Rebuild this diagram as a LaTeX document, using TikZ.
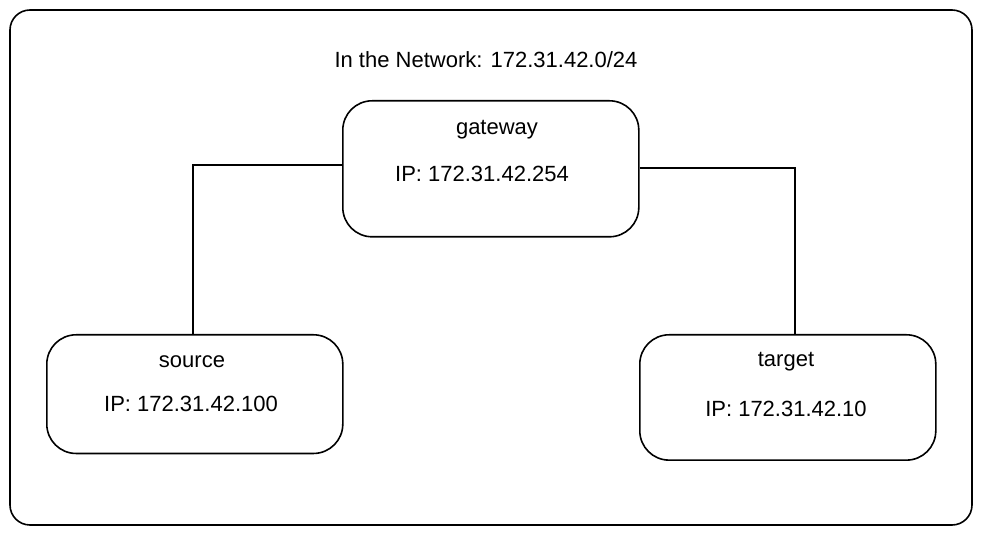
\documentclass[tikz,border=0pt]{standalone}
\usepackage{fontspec}
\setmainfont{Liberation Sans}
\usetikzlibrary{positioning}
\tikzset{
host/.style={draw, line width=1.2pt, rounded corners=22pt, minimum width=222pt, anchor=north west, inner sep=0pt},
label text/.style={font=\fontsize{16.5}{19}\selectfont},
wire/.style={line width=1.1pt}
}

\begin{document}
\begin{tikzpicture}[x=0.75pt, y=-0.75pt]
\useasboundingbox (0,0) rectangle (983,534);
\draw[line width=1.2pt, rounded corners=15pt] (10,10) rectangle (972,525);
\node[label text] (net) at (486,60) {In the Network: 172.31.42.0/24};

\node[host, minimum height=102pt] (gateway) at (342,100) {};
\node[host, minimum height=89pt] (source) at (46,334) {};
\node[host, minimum height=94pt] (target) at (639,334) {};

\node[label text] (gwname) at (497,130) {gateway};
\node[label text] (gwip) at (482,174) {IP: 172.31.42.254};
\node[label text] (srcname) at (192,362) {source};
\node[label text] (srcip) at (191,404) {IP: 172.31.42.100};
\node[label text] (tgtname) at (786,362) {target};
\node[label text] (tgtip) at (786,409) {IP: 172.31.42.10};

\coordinate (lbend) at (193,165);
\coordinate (rbend) at (795,168);
\draw[wire] (gateway.west |- lbend) -- (lbend) -- (lbend |- source.north);
\draw[wire] (gateway.east |- rbend) -- (rbend) -- (rbend |- target.north);
\end{tikzpicture}
\end{document}
